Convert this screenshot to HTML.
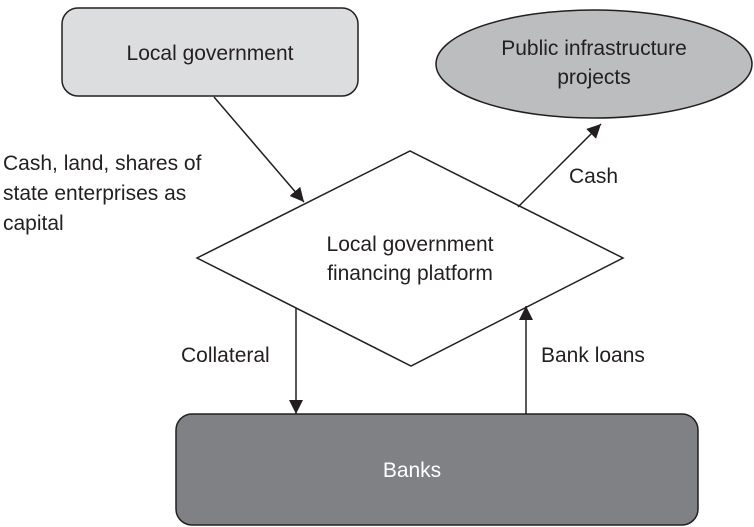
<!DOCTYPE html>
<html><head><meta charset="utf-8"><style>
html,body{margin:0;padding:0;background:#fff;}
svg{display:block;}
text{font-family:"Liberation Sans",Arial,sans-serif;font-size:21px;fill:#231f20;}
</style></head><body>
<svg width="754" height="527" viewBox="0 0 754 527" xmlns="http://www.w3.org/2000/svg">
<defs>
<marker id="a" viewBox="0 0 10 10" refX="10" refY="5" markerWidth="14" markerHeight="14" orient="auto" markerUnits="userSpaceOnUse">
<path d="M0,0 L10,5 L0,10 z" fill="#231f20"/></marker>
</defs>
<rect x="62" y="8" width="296" height="88" rx="16" fill="#dcddde" stroke="#231f20" stroke-width="1.5"/>
<text x="210" y="60" text-anchor="middle">Local government</text>
<ellipse cx="594" cy="64" rx="158" ry="54" fill="#bcbdbf" stroke="#231f20" stroke-width="1.5"/>
<text x="594" y="55" text-anchor="middle">Public infrastructure</text>
<text x="594" y="84" text-anchor="middle">projects</text>
<polygon points="197,258 410,151 623,258 411,366" fill="#fff" stroke="#231f20" stroke-width="1.5"/>
<text x="410" y="251" text-anchor="middle">Local government</text>
<text x="410" y="280" text-anchor="middle">financing platform</text>
<rect x="176" y="414" width="522" height="111" rx="16" fill="#808184" stroke="#231f20" stroke-width="1.5"/>
<text x="412" y="477" text-anchor="middle" style="fill:#fff">Banks</text>
<line x1="214" y1="97" x2="304" y2="202" stroke="#231f20" stroke-width="1.5" marker-end="url(#a)"/>
<line x1="518" y1="207" x2="601" y2="124" stroke="#231f20" stroke-width="1.5" marker-end="url(#a)"/>
<line x1="296" y1="308" x2="296" y2="414" stroke="#231f20" stroke-width="1.5" marker-end="url(#a)"/>
<line x1="526" y1="414" x2="526" y2="306" stroke="#231f20" stroke-width="1.5" marker-end="url(#a)"/>
<text x="3" y="170">Cash, land, shares of</text>
<text x="3" y="200">state enterprises as</text>
<text x="3" y="230">capital</text>
<text x="569" y="183">Cash</text>
<text x="181" y="362">Collateral</text>
<text x="541" y="362">Bank loans</text>
</svg>
</body></html>
